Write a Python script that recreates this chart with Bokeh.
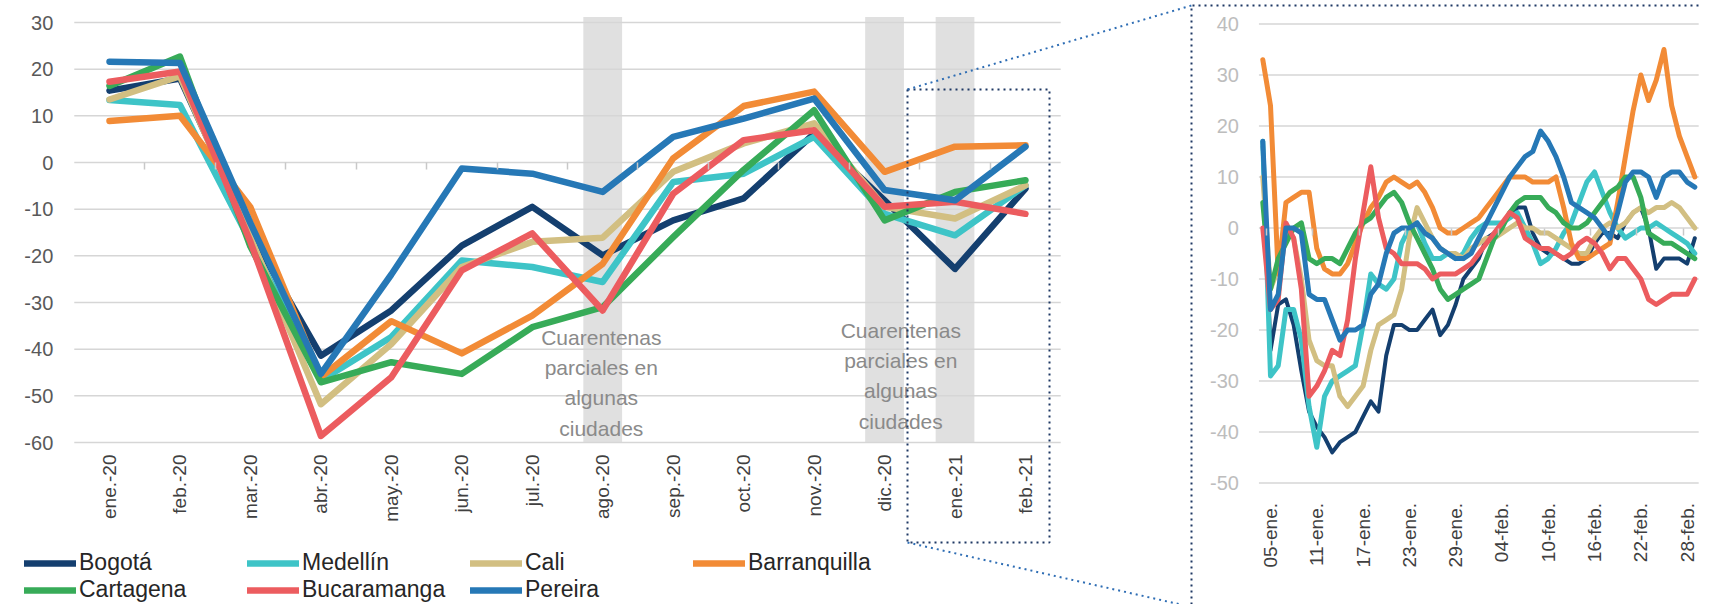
import math
from bokeh.plotting import figure
from bokeh.models import Range1d, LinearAxis, FixedTicker, Legend, LegendItem, CustomJSTickFormatter
from bokeh.embed import file_html
from bokeh.resources import INLINE
from bokeh.core.properties import value

# ---------------- monthly panel data ----------------
MONTHS = ["ene.-20", "feb.-20", "mar.-20", "abr.-20", "may.-20", "jun.-20", "jul.-20",
          "ago.-20", "sep.-20", "oct.-20", "nov.-20", "dic.-20", "ene.-21", "feb.-21"]
BOGOTA_M = [15.4, 18.0, -15.0, -41.4, -31.7, -17.8, -9.5, -19.9, -12.4, -7.7, 6.2, -8.1, -22.8, -5.6]
MEDELLIN_M = [13.4, 12.3, -17.0, -46.7, -37.4, -21.0, -22.4, -25.6, -4.2, -2.4, 5.5, -11.0, -15.6, -4.9]
CALI_M = [13.5, 18.5, -16.0, -51.8, -38.9, -22.4, -17.0, -16.1, -2.0, 4.1, 8.4, -9.5, -12.0, -4.9]
BARRANQUILLA_M = [8.9, 10.0, -9.6, -46.0, -34.0, -40.9, -32.8, -21.7, 0.9, 12.1, 15.2, -2.0, 3.4, 3.7]
CARTAGENA_M = [16.4, 22.7, -18.0, -47.1, -42.8, -45.3, -35.3, -31.0, -16.0, -1.6, 11.2, -12.4, -6.3, -3.8]
BUCARAMANGA_M = [17.3, 19.5, -17.0, -58.6, -46.0, -23.1, -15.2, -31.7, -6.7, 4.8, 6.9, -9.5, -8.4, -11.0]
PEREIRA_M = [21.6, 21.3, -13.0, -45.3, -24.0, -1.3, -2.4, -6.3, 5.5, 9.4, 13.7, -5.9, -8.1, 3.4]
QUARANTINE_MONTHS = ["ago.-20", "dic.-20", "ene.-21"]
QUARANTINE_NOTE = "Cuarentenas\nparciales en\nalgunas\nciudades"
Y_TICKS_M = [-60, -50, -40, -30, -20, -10, 0, 10, 20, 30]

# ---------------- daily panel data (04-ene .. 01-mar) ----------------
DAY_LABELS = ["05-ene.", "11-ene.", "17-ene.", "23-ene.", "29-ene.",
              "04-feb.", "10-feb.", "16-feb.", "22-feb.", "28-feb."]
DAY_LABEL_POS = [0, 6, 12, 18, 24, 30, 36, 42, 48, 54]
DAY_INDEX = list(range(-1, 56))
BOGOTA_D = [16, -24, -15, -14, -19, -28, -36, -39, -41, -44, -42, -41, -40, -37, -34, -36, -25, -19, -19,
            -20, -20, -18, -16, -21, -19, -15, -10, -8, -6, -2, -1, 1, 2, 4, 4, -1, -4, -5, -5, -6, -7,
            -7, -6, -3, -1, -1, -2, 1, 3, 4, 0, -8, -6, -6, -6, -7, -2]
MEDELLIN_D = [17, -29, -27, -16, -16, -22, -35, -43, -33, -30, -29, -28, -27, -19, -9, -11, -12, -10, -3,
              0, 1, -3, -6, -6, -5, -6, -5, -2, 0, 1, 1, 1, 2, 3, 0, -3, -7, -6, -4, -1, 1, 5, 9, 11,
              7, 3, 0, -2, -1, 0, 0, 1, 0, -1, -2, -3, -5]
CALI_D = [10, -12, -8, 0, -2, -10, -22, -26, -27, -27, -33, -35, -33, -31, -24, -19, -18, -17, -12, -2,
          4, 1, -2, -4, -5, -5, -6, -4, -3, -2, -2, -1, 0, 1, 0, 0, -1, -1, -2, -3, -4, -5, -5, -2, 0,
          1, 0, 1, 3, 4, 3, 4, 4, 5, 4, 2, 0]
BARRANQUILLA_D = [33, 24, -9, 5, 6, 7, 7, -4, -8, -9, -9, -7, -3, 1, 4, 6, 9, 10, 9, 8, 9, 7, 4, 0, -1,
                  -1, 0, 1, 2, 4, 6, 8, 10, 10, 10, 9, 9, 9, 10, 4, -3, -6, -6, -5, -4, -3, 5, 14, 23,
                  30, 25, 29, 35, 24, 18, 14, 10]
CARTAGENA_D = [5, -12, -6, -3, 0, 1, -6, -7, -6, -6, -7, -4, -1, 1, 2, 4, 6, 7, 5, 1, -2, -5, -8, -12,
               -14, -13, -12, -11, -10, -6, -2, 0, 3, 5, 6, 6, 6, 4, 3, 1, 0, 0, 1, 3, 5, 7, 8, 10, 10,
               6, -1, -2, -3, -3, -4, -5, -6]
BUCARAMANGA_D = [0, -16, -14, 1, -2, -12, -33, -31, -28, -24, -25, -18, -6, 3, 12, 2, -4, -5, -7, -7, -7,
                 -8, -10, -9, -9, -9, -8, -7, -5, -3, -1, 1, 3, 2, -2, -3, -4, -4, -5, -6, -5, -3, -2,
                 -3, -5, -8, -6, -6, -8, -10, -14, -15, -14, -13, -13, -13, -10]
PEREIRA_D = [17, -16, -13, 0, 0, -1, -13, -14, -14, -18, -22, -20, -20, -19, -13, -11, -5, -1, 0, 0, 1,
             -1, -2, -4, -5, -6, -6, -5, -2, 1, 4, 7, 10, 12, 14, 15, 19, 17, 14, 10, 5, 4, 3, 2, 0, -2,
             3, 9, 11, 11, 10, 6, 10, 11, 11, 9, 8]
Y_TICKS_D = [-50, -40, -30, -20, -10, 0, 10, 20, 30, 40]

CITIES = ["Bogotá", "Medellín", "Cali", "Barranquilla", "Cartagena", "Bucaramanga", "Pereira"]
COLORS = ["#143f6f", "#3ec4c7", "#d2bf82", "#f28b36", "#37ab58", "#ec5c5f", "#2678b6"]
MONTHLY = [BOGOTA_M, MEDELLIN_M, CALI_M, BARRANQUILLA_M, CARTAGENA_M, BUCARAMANGA_M, PEREIRA_M]
DAILY = [BOGOTA_D, MEDELLIN_D, CALI_D, BARRANQUILLA_D, CARTAGENA_D, BUCARAMANGA_D, PEREIRA_D]

# ---------------- layout (canvas pixels) ----------------
W, H = 1702, 604
L_X0, L_DX = 109.0, 70.46        # canvas x of first month, px per month
L_Y30, L_PX = 22.0, 4.6667       # canvas y of value 30, px per unit
R_X0, R_DX = 1270.0, 7.715       # canvas x of day 0 (05-ene), px per day
R_Y40, R_PX = 23.5, 5.10         # canvas y of value 40, px per unit

FONT = value("Liberation Sans")

p = figure(width=W, height=H, x_range=Range1d(0, W), y_range=Range1d(H, 0),
           x_axis_type=None, y_axis_type=None, output_backend="svg",
           toolbar_location=None, min_border=0, title=None)
p.outline_line_color = None
p.background_fill_color = "white"
p.border_fill_color = "white"

p.extra_x_ranges = {
    "lx": Range1d(-L_X0 / L_DX, (W - L_X0) / L_DX),
    "rx": Range1d(-R_X0 / R_DX, (W - R_X0) / R_DX),
}
p.extra_y_ranges = {
    "ly": Range1d(30 - (H - L_Y30) / L_PX, 30 + L_Y30 / L_PX),
    "ry": Range1d(40 - (H - R_Y40) / R_PX, 40 + R_Y40 / R_PX),
}
LEFT = dict(x_range_name="lx", y_range_name="ly")
RIGHT = dict(x_range_name="rx", y_range_name="ry")

# quarantine bands
band_x = [MONTHS.index(m) for m in QUARANTINE_MONTHS]
p.vbar(x=band_x, width=0.55, bottom=min(Y_TICKS_M), top=31.2, fill_color="#e0e0e0",
       line_color=None, **LEFT)

# gridlines
p.segment(x0=-0.5, x1=len(MONTHS) - 0.5, y0=Y_TICKS_M, y1=Y_TICKS_M,
          line_color="#d6d6d6", line_width=1.5, **LEFT)
p.segment(x0=DAY_INDEX[0] - 0.5, x1=DAY_INDEX[-1] + 0.5, y0=Y_TICKS_D, y1=Y_TICKS_D,
          line_color="#d6d6d6", line_width=1.5, **RIGHT)

# quarantine notes
p.text(x=[6.98, 11.23], y=[-47.2, -45.7], text=[QUARANTINE_NOTE, QUARANTINE_NOTE],
       text_align="center", text_baseline="middle", text_font=FONT,
       text_font_size="21px", text_color="#8a8a8a", text_line_height=1.32, **LEFT)

# lines
month_x = list(range(len(MONTHS)))
legend_items = []
for name, col, ym, yd in zip(CITIES, COLORS, MONTHLY, DAILY):
    r = p.line(month_x, ym, line_color=col, line_width=6.5, line_join="round",
               line_cap="round", **LEFT)
    legend_items.append(LegendItem(label=name, renderers=[r]))
    p.line(DAY_INDEX, yd, line_color=col, line_width=4 if name == "Bogotá" else 5,
           line_join="round", line_cap="round", **RIGHT)

# zoom box + connectors (canvas pixels)
DOT = dict(line_dash="2 4", line_width=2)
p.line([907, 1049, 1049, 907, 907], [89, 89, 542, 542, 89], line_color="#1f3864", **DOT)
p.line([1191, 1191, W], [H, 5, 5], line_color="#1f3864", **DOT)
p.line([907, 1191], [89, 5], line_color="#2e6db4", **DOT)
p.line([907, 1189], [542, 606], line_color="#2e6db4", **DOT)

blank = CustomJSTickFormatter(code="return ''")

# left panel axes
ly_ax = LinearAxis(fixed_location=-0.5, ticker=FixedTicker(ticks=Y_TICKS_M), **LEFT)
ly_ax.major_label_overrides = {v: str(v) for v in Y_TICKS_M}
lx_ax = LinearAxis(fixed_location=min(Y_TICKS_M), ticker=FixedTicker(ticks=month_x), **LEFT)
lx_ax.major_label_overrides = {i: m for i, m in enumerate(MONTHS)}
lx_ax.major_label_orientation = math.pi / 2
l0_ax = LinearAxis(fixed_location=0, ticker=FixedTicker(ticks=[i + 0.5 for i in month_x[:-1]]),
                   formatter=blank, **LEFT)
# right panel axes
ry_ax = LinearAxis(fixed_location=DAY_INDEX[0] - 0.5, ticker=FixedTicker(ticks=Y_TICKS_D), **RIGHT)
ry_ax.major_label_overrides = {v: str(v) for v in Y_TICKS_D}
rx_ax = LinearAxis(fixed_location=min(Y_TICKS_D), ticker=FixedTicker(ticks=DAY_LABEL_POS), **RIGHT)
rx_ax.major_label_overrides = {pos: lab for pos, lab in zip(DAY_LABEL_POS, DAY_LABELS)}
rx_ax.major_label_orientation = math.pi / 2
r0_ax = LinearAxis(fixed_location=0, ticker=FixedTicker(ticks=[t - 0.5 for t in DAY_LABEL_POS]),
                   formatter=blank, **RIGHT)

for ax in (ly_ax, lx_ax, l0_ax, ry_ax, rx_ax, r0_ax):
    ax.axis_line_color = None
    ax.major_tick_line_color = None
    ax.minor_tick_line_color = None
    ax.major_label_text_font = "Liberation Sans"
for ax in (l0_ax, r0_ax):
    ax.major_tick_line_color = "#c8c8c8"
    ax.major_tick_line_width = 1.5
    ax.major_tick_out = 7
    ax.major_tick_in = 0
ly_ax.major_label_text_font_size = "20px"
ly_ax.major_label_text_color = "#595959"
ly_ax.major_label_standoff = 15
ry_ax.major_label_text_font_size = "20px"
ry_ax.major_label_text_color = "#bdbdbd"
ry_ax.major_label_standoff = 14
lx_ax.major_label_text_font_size = "19px"
lx_ax.major_label_text_color = "#404040"
lx_ax.major_label_standoff = 6
rx_ax.major_label_text_font_size = "19px"
rx_ax.major_label_text_color = "#404040"
rx_ax.major_label_standoff = 14

p.add_layout(ly_ax, "left")
p.add_layout(ry_ax, "left")
p.add_layout(lx_ax, "below")
p.add_layout(l0_ax, "below")
p.add_layout(rx_ax, "below")
p.add_layout(r0_ax, "below")

legend = Legend(items=legend_items, ncols=4, orientation="horizontal", location=(24, 1),
                glyph_width=52, glyph_height=26, label_height=26, label_width=168,
                label_standoff=3, spacing=0, padding=0, margin=0,
                label_text_font="Liberation Sans", label_text_font_size="23px",
                label_text_color="#262626", border_line_color=None,
                background_fill_alpha=0)
p.add_layout(legend)

open("out.html", "w").write(file_html(p, INLINE))
